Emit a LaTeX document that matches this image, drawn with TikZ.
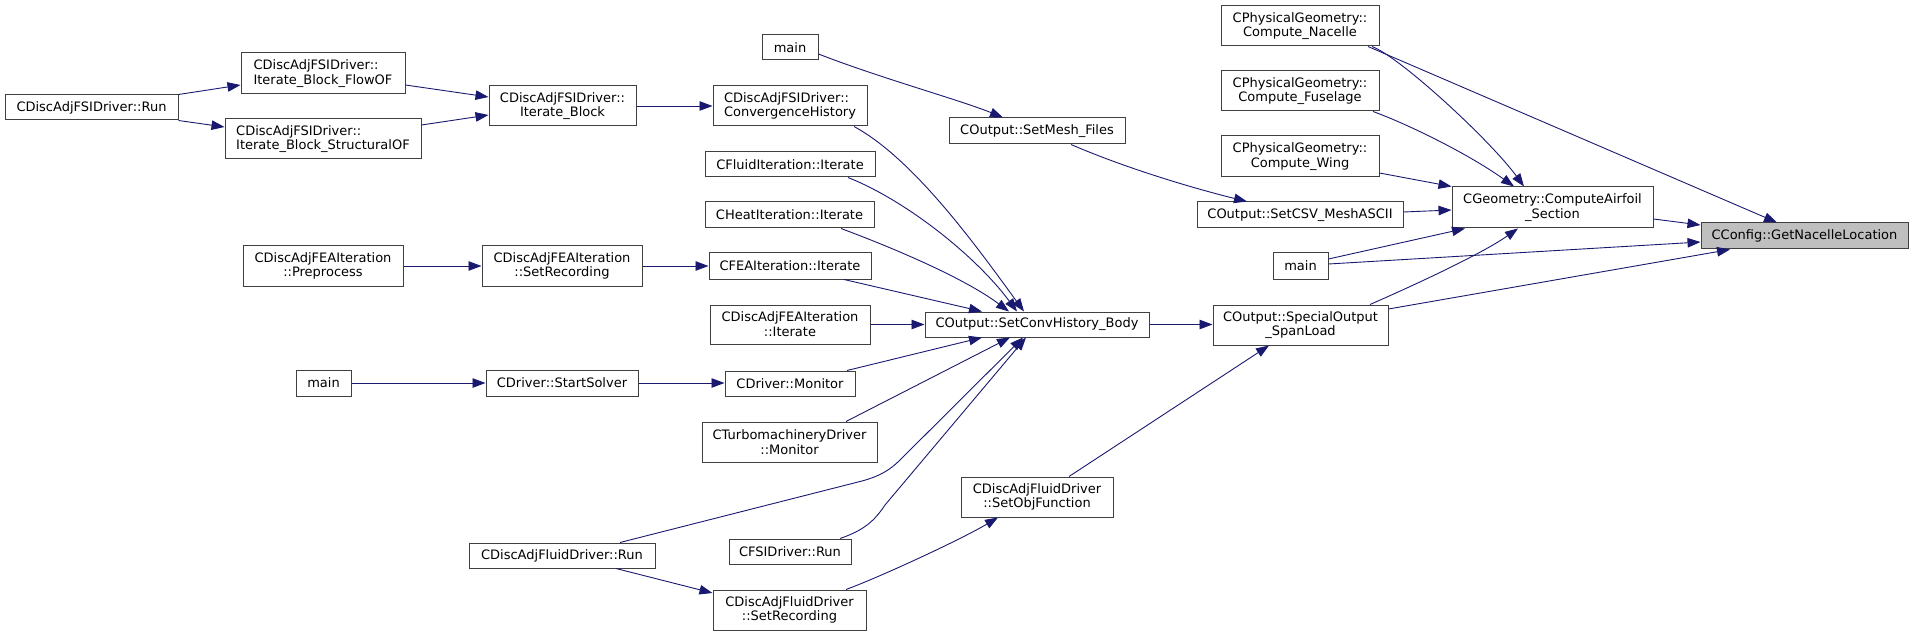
\documentclass[tikz,border=0pt]{standalone}
\usepackage{fontspec}
\setmainfont{DejaVu Sans}
\usetikzlibrary{arrows.meta}
\definecolor{edgecol}{HTML}{191970}
\definecolor{rootfill}{HTML}{BFBFBF}
\begin{document}
\begin{tikzpicture}[x=1pt,y=-1pt,
  box/.style={draw=black!75,line width=1pt,fill=white,rectangle,inner sep=0pt,
    font=\fontsize{13}{14.7}\selectfont,align=center},
  lbox/.style={box,align=left},
  call/.style={draw=edgecol,line width=0.9pt,-{Triangle[length=13pt,width=9.5pt]},edgecol}]
\useasboundingbox (0,0) rectangle (1913,636);
% rank 0
\node[box,minimum width=173pt,minimum height=25pt] (fsirun) at (91.5,107.5) {CDiscAdjFSIDriver::Run};
% rank 1
\node[lbox,minimum width=164pt,minimum height=41pt] (flowof) at (323,73.5) {CDiscAdjFSIDriver::\\Iterate\_Block\_FlowOF};
\node[lbox,minimum width=196pt,minimum height=40pt] (structof) at (323,139) {CDiscAdjFSIDriver::\\Iterate\_Block\_StructuralOF};
\node[box,minimum width=160pt,minimum height=40pt] (feapre) at (323,266) {CDiscAdjFEAIteration\\::Preprocess};
\node[box,minimum width=55pt,minimum height=26pt] (mainbot) at (323.5,383) {main};
% rank 2
\node[box,minimum width=147pt,minimum height=40pt] (iterblock) at (562.5,106) {CDiscAdjFSIDriver::\\Iterate\_Block};
\node[box,minimum width=160pt,minimum height=40pt] (fearec) at (562,266) {CDiscAdjFEAIteration\\::SetRecording};
\node[box,minimum width=152pt,minimum height=26pt] (startsolver) at (562,383) {CDriver::StartSolver};
\node[box,minimum width=186pt,minimum height=25pt] (fluidrun) at (562,555.5) {CDiscAdjFluidDriver::Run};
% rank 3
\node[box,minimum width=56pt,minimum height=25pt] (maintop) at (790,47.5) {main};
\node[lbox,minimum width=154pt,minimum height=40pt] (convhist) at (790,106) {CDiscAdjFSIDriver::\\ConvergenceHistory};
\node[box,minimum width=170pt,minimum height=25pt] (fluiditer) at (790,164.5) {CFluidIteration::Iterate};
\node[box,minimum width=169pt,minimum height=26pt] (heatiter) at (789.5,215) {CHeatIteration::Iterate};
\node[box,minimum width=162pt,minimum height=26pt] (feaiter) at (790,266) {CFEAIteration::Iterate};
\node[box,minimum width=160pt,minimum height=39pt] (dafeaiter) at (790,324.5) {CDiscAdjFEAIteration\\::Iterate};
\node[box,minimum width=130pt,minimum height=25pt] (monitor) at (790,383.5) {CDriver::Monitor};
\node[box,minimum width=175pt,minimum height=40pt] (turbo) at (789.5,442) {CTurbomachineryDriver\\::Monitor};
\node[box,minimum width=122pt,minimum height=25pt] (fsidrun) at (790,551.5) {CFSIDriver::Run};
\node[box,minimum width=153pt,minimum height=40pt] (fluidrec) at (789.5,610) {CDiscAdjFluidDriver\\::SetRecording};
% rank 4
\node[box,minimum width=176pt,minimum height=26pt] (setmesh) at (1037,131) {COutput::SetMesh\_Files};
\node[box,minimum width=224pt,minimum height=25pt] (body) at (1037,324.5) {COutput::SetConvHistory\_Body};
\node[box,minimum width=152pt,minimum height=40pt] (setobj) at (1037,497) {CDiscAdjFluidDriver\\::SetObjFunction};
% rank 5
\node[box,minimum width=158pt,minimum height=40pt] (nacelle) at (1300,26) {CPhysicalGeometry::\\Compute\_Nacelle};
\node[box,minimum width=158pt,minimum height=40pt] (fuselage) at (1300,91) {CPhysicalGeometry::\\Compute\_Fuselage};
\node[box,minimum width=158pt,minimum height=41pt] (wing) at (1300,156.5) {CPhysicalGeometry::\\Compute\_Wing};
\node[box,minimum width=206pt,minimum height=26pt] (setcsv) at (1300,215) {COutput::SetCSV\_MeshASCII};
\node[box,minimum width=55pt,minimum height=26pt] (mainmid) at (1300.5,266) {main};
\node[box,minimum width=175pt,minimum height=40pt] (special) at (1300.5,325) {COutput::SpecialOutput\\\_SpanLoad};
% rank 6
\node[box,minimum width=201pt,minimum height=41pt] (airfoil) at (1552.5,207.5) {CGeometry::ComputeAirfoil\\\_Section};
% rank 7
\node[box,fill=rootfill,minimum width=207pt,minimum height=26pt] (config) at (1804.5,236) {CConfig::GetNacelleLocation};
% edges
\draw[call] (fsirun.north east) -- (flowof.west |- 0,85);
\draw[call] (fsirun.south east) -- (structof.west |- 0,127);
\draw[call] (flowof.east |- 0,85) -- (iterblock.west |- 0,97);
\draw[call] (structof.east |- 0,125) -- (iterblock.west |- 0,115);
\draw[call] (iterblock.east) -- (convhist.west);
\draw[call] (854,0 |- convhist.south) .. controls (914,159) and (977,247) .. (1024,0 |- body.north);
\draw[call] (maintop.east |- 0,54) .. controls (880,78) and (960,100) .. (1003,0 |- setmesh.north);
\draw[call] (1071,0 |- setmesh.south) .. controls (1130,170) and (1200,190) .. (1247,0 |- setcsv.north);
\draw[call] (848,0 |- fluiditer.south) .. controls (905,200) and (975,255) .. (1017,0 |- body.north);
\draw[call] (841,0 |- heatiter.south) .. controls (880,243) and (960,275) .. (1009,0 |- body.north);
\draw[call] (feapre) -- (fearec);
\draw[call] (fearec) -- (feaiter);
\draw[call] (844,0 |- feaiter.south) -- (982,0 |- body.north);
\draw[call] (dafeaiter) -- (body);
\draw[call] (mainbot) -- (startsolver);
\draw[call] (startsolver) -- (monitor.west |- startsolver.east);
\draw[call] (847,0 |- monitor.north) -- (982,0 |- body.south);
\draw[call] (846,0 |- turbo.north) -- (1010,0 |- body.south);
\draw[call] (620,0 |- fluidrun.north) -- (862,481) .. controls (880,476) and (890,470) .. (900,460) -- (1023,0 |- body.south);
\draw[call] (840,0 |- fsidrun.north) .. controls (865,530) and (875,520) .. (885,505) -- (1026,0 |- body.south);
\draw[call] (616,0 |- fluidrun.south) -- (fluidrec.west |- 0,593);
\draw[call] (846,0 |- fluidrec.north) .. controls (880,577) and (960,540) .. (998,0 |- setobj.south);
\draw[call] (1069,0 |- setobj.north) -- (1269,0 |- special.south);
\draw[call] (body.east) -- (special.west |- body.east);
\draw[call] (1372,0 |- nacelle.south) .. controls (1400,57) and (1490,140) .. (1524,0 |- airfoil.north);
\draw[call] (1368,0 |- nacelle.south) -- (1777,0 |- config.north);
\draw[call] (1373,0 |- fuselage.south) .. controls (1410,125) and (1470,155) .. (1514,0 |- airfoil.north);
\draw[call] (wing.east |- 0,173) -- (airfoil.north west);
\draw[call] (setcsv.east |- 0,212) -- (airfoil.west |- 0,210);
\draw[call] (mainmid.east |- 0,259) -- (1465,0 |- airfoil.south);
\draw[call] (mainmid.east |- 0,264) -- (config.west |- 0,242);
\draw[call] (1370,0 |- special.north) .. controls (1410,287) and (1480,255) .. (1518,0 |- airfoil.south);
\draw[call] (special.east |- 0,309) -- (1730,0 |- config.south);
\draw[call] (airfoil.east |- 0,219) -- (config.west |- 0,225);
\end{tikzpicture}
\end{document}
